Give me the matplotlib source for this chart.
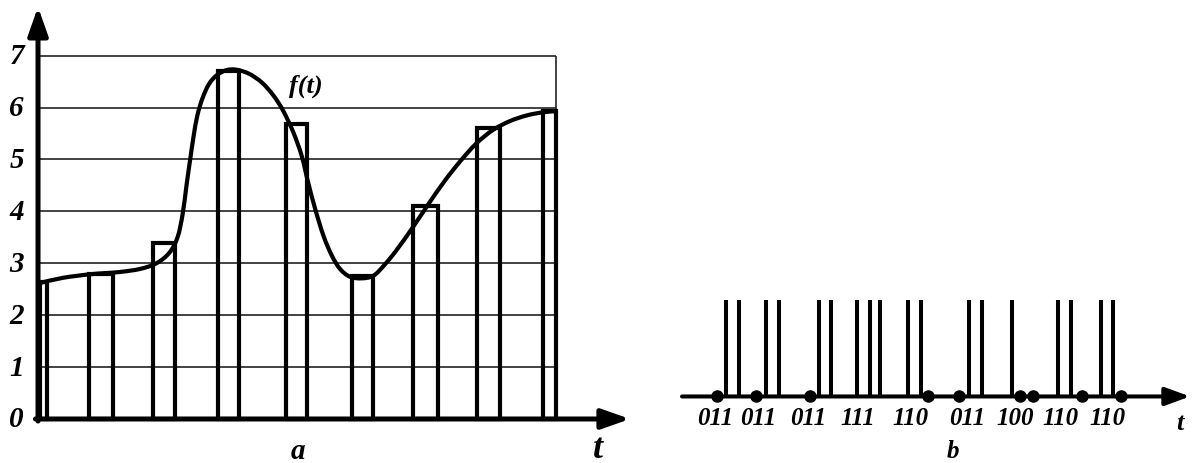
import matplotlib
matplotlib.use("Agg")
import numpy as np
import matplotlib.pyplot as plt
from matplotlib.path import Path
from matplotlib.patches import PathPatch

plt.rcParams['font.family'] = ['Liberation Serif', 'DejaVu Serif']

# ---- panel a: sampled signal ----
y_levels = [0, 1, 2, 3, 4, 5, 6, 7]
grid_right = 8.09

bar_left = [0.03, 0.80, 1.80, 2.81, 3.87, 4.91, 5.86, 6.86, 7.895]
bar_width = [0.11, 0.37, 0.34, 0.33, 0.34, 0.33, 0.39, 0.36, 0.195]
bar_height = [2.64, 2.79, 3.40, 6.71, 5.68, 2.75, 4.11, 5.60, 5.94]

curve_t = [0.03, 0.39, 0.83, 1.26, 1.59, 1.85, 2.05, 2.18, 2.26, 2.32, 2.375,
           2.43, 2.49, 2.57, 2.67, 2.79, 2.94, 3.10, 3.30, 3.50, 3.68, 3.83,
           3.99, 4.12, 4.22, 4.33, 4.46, 4.59, 4.72, 4.875, 5.06, 5.24, 5.40,
           5.60, 5.86, 6.10, 6.35, 6.60, 6.85, 7.11, 7.375, 7.64, 7.895, 8.08]
curve_v = [2.62, 2.72, 2.79, 2.83, 2.89, 3.00, 3.20, 3.50, 3.95, 4.50, 4.98,
           5.44, 5.85, 6.18, 6.45, 6.62, 6.72, 6.73, 6.65, 6.48, 6.23, 5.94,
           5.52, 5.07, 4.56, 4.05, 3.53, 3.15, 2.89, 2.74, 2.71, 2.76, 2.95,
           3.25, 3.70, 4.14, 4.58, 4.97, 5.31, 5.57, 5.74, 5.85, 5.91, 5.93]

# ---- panel b: binary pulse code ----
codes = ['011', '011', '011', '111', '110', '011', '100', '110', '110']
bit_pos = [
    [3.47, 4.37, 5.70],
    [7.40, 8.37, 9.70],
    [12.80, 13.67, 14.93],
    [17.50, 18.80, 19.83],
    [22.63, 23.90, 24.63],
    [27.70, 28.73, 30.00],
    [32.97, 33.80, 35.07],
    [37.63, 38.93, 40.03],
    [41.90, 43.13, 43.90],
]
label_pos = [3.3, 7.6, 12.6, 17.6, 22.8, 28.5, 33.3, 37.8, 42.5]


def smooth_path(xs, ys):
    # catmull-rom through the read points, drawn as bezier segments
    pts = np.column_stack([xs, ys])
    n = len(pts)
    verts = [pts[0]]
    kinds = [Path.MOVETO]
    for i in range(n - 1):
        p0 = pts[max(i - 1, 0)]
        p1 = pts[i]
        p2 = pts[i + 1]
        p3 = pts[min(i + 2, n - 1)]
        verts += [p1 + (p2 - p0) / 6, p2 - (p3 - p1) / 6, p2]
        kinds += [Path.CURVE4] * 3
    return Path(verts, kinds)


fig = plt.figure(figsize=(11.98, 4.64), dpi=100)

# left axes, whole left part of the figure
ax = fig.add_axes([0, 0, 640 / 1198, 1])
ax.set_xlim(-0.594, 9.406)
ax.set_ylim(-0.848, 8.092)
ax.axis('off')

ax.hlines(y_levels[1:], 0, grid_right, color='#222222', lw=1.2, zorder=1)
ax.vlines(grid_right, 0, 7, color='#222222', lw=1.2, zorder=1)

ax.bar(bar_left, bar_height, width=bar_width, align='edge', fill=False,
       edgecolor='black', linewidth=3.0, zorder=2)
ax.add_patch(PathPatch(smooth_path(curve_t, curve_v), fill=False,
                       edgecolor='black', lw=3.0, capstyle='round',
                       joinstyle='round', zorder=3))

arrow = dict(arrowstyle='-|>,head_length=17,head_width=6', mutation_scale=1,
             color='black', lw=3.6, shrinkA=0, shrinkB=0)
ax.annotate('', xy=(9.25, 0), xytext=(-0.04, 0), arrowprops=arrow, zorder=4)
ax.annotate('', xy=(0, 7.94), xytext=(0, -0.04), arrowprops=arrow, zorder=4)

for v in y_levels:
    ax.text(-0.22, v, str(v), ha='right', va='center', fontsize=21,
            fontweight='bold', style='italic')

ax.text(4.19, 6.43, 'f(t)', ha='center', va='center', fontsize=19,
        fontweight='bold', style='italic')
ax.text(8.75, -0.57, 't', ha='center', va='center', fontsize=26,
        fontweight='bold', style='italic')
ax.text(4.06, -0.60, 'a', ha='center', va='center', fontsize=21,
        fontweight='bold', style='italic')

# right axes
bx = fig.add_axes([660 / 1198, 0, 538 / 1198, 1])
bx.set_xlim(-2.2, 51.6)
bx.set_ylim(-0.693, 4.14)
bx.axis('off')

arrow_b = dict(arrowstyle='-|>,head_length=15,head_width=5.5', mutation_scale=1,
               color='black', lw=2.9, shrinkA=0, shrinkB=0)
bx.annotate('', xy=(50.8, 0), xytext=(0.0, 0), arrowprops=arrow_b, zorder=1)

for code, pos in zip(codes, bit_pos):
    for bit, u in zip(code, pos):
        if bit == '1':
            bx.vlines(u, 0, 1, color='black', lw=2.9, zorder=2)
        else:
            bx.plot(u, 0, 'o', color='black', ms=8, zorder=3)

for code, u in zip(codes, label_pos):
    bx.text(u, -0.22, code, ha='center', va='center', fontsize=18,
            fontweight='bold', style='italic')

bx.text(49.8, -0.27, 't', ha='center', va='center', fontsize=19,
        fontweight='bold', style='italic')
bx.text(27.1, -0.56, 'b', ha='center', va='center', fontsize=18,
        fontweight='bold', style='italic')

fig.savefig('out.png', dpi=100)
